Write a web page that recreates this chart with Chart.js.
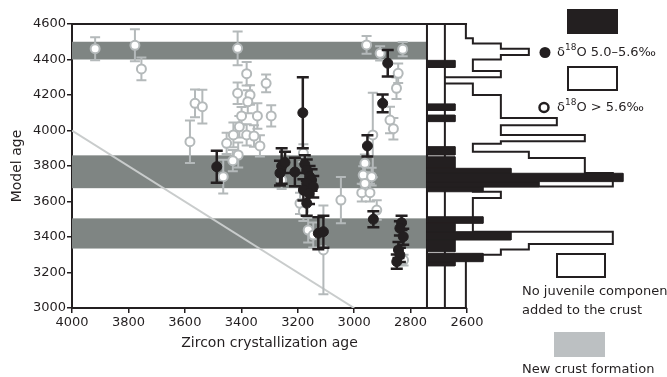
<!DOCTYPE html>
<html>
<head>
<meta charset="utf-8">
<script src="https://cdn.jsdelivr.net/npm/chart.js@4"></script>
<style>
  html, body { margin: 0; padding: 0; background: #fff; }
</style>
</head>
<body>
<canvas id="zircon" width="667" height="377"></canvas>
<script>
// open circles: d18O > 5.6 permil (crystallization age, model age, 2 sigma)
const openX = [3918, 3777, 3754, 3564, 3538, 3582, 3413, 3381, 3312, 3413, 3369, 3377,
  3343, 3294, 3399, 3407, 3428, 3381, 3355, 3452, 3334, 3411, 3464, 3430,
  3257, 3180, 3192, 3180, 3163, 3145, 3109, 3047, 2956, 2908, 2828, 2844,
  2850, 2873, 2861, 2934, 2962, 2968, 2938, 2962, 2973, 2944, 2920, 2825];
const openY = [4461, 4480, 4347, 4153, 4134, 3937, 4463, 4320, 4266, 4210, 4200, 4162,
  4082, 4082, 4082, 4021, 3975, 3975, 3969, 3928, 3913, 3862, 3740, 3830,
  3721, 3873, 3590, 3545, 3439, 3411, 3327, 3608, 4482, 4435, 4458, 4322,
  4238, 4059, 4010, 3975, 3815, 3749, 3740, 3702, 3650, 3650, 3552, 3270];
const openErr = [65, 90, 64, 78, 95, 120, 95, 66, 50, 60, 55, 65,
  72, 60, 50, 60, 70, 60, 60, 60, 60, 70, 95, 60,
  50, 50, 60, 55, 70, 70, 250, 130, 50, 40, 40, 55,
  60, 75, 60, 238, 50, 50, 50, 50, 50, 50, 55, 30];

// filled circles: d18O 5.0-5.6 permil
const fillX = [3487, 3182, 2881, 2899, 2953, 2932, 2832, 2838, 2826, 2843, 2838, 2849,
  3257, 3263, 3210, 3245, 3175, 3168, 3158, 3151, 3168, 3145, 3180, 3160, 3168, 3127, 3109];
const fillY = [3796, 4100, 4379, 4153, 3913, 3500, 3480, 3449, 3402, 3327, 3299, 3261,
  3800, 3760, 3766, 3820, 3810, 3777, 3740, 3721, 3702, 3683, 3665, 3646, 3590, 3421, 3430];
const fillErr = [90, 200, 75, 50, 60, 45, 40, 40, 45, 45, 40, 40,
  100, 70, 80, 60, 50, 60, 60, 60, 60, 60, 60, 60, 70, 90, 90];

const xTicks = [4000, 3800, 3600, 3400, 3200, 3000, 2800, 2600];

// new crust formation bands (model age)
const bandLo = [4400, 3675, 3335];
const bandHi = [4500, 3860, 3505];

// model age histogram, all zircons (outline)
const outlineEdges = [4600, 4520, 4490, 4460, 4425, 4400, 4335, 4300, 4265, 4200, 4070, 4030,
  3975, 3940, 3925, 3880, 3845, 3760, 3685, 3655, 3620, 3430, 3360, 3330, 3300, 3270, 3000];
const outlineCounts = [0.75, 1, 2, 3, 2, 1, 2, 0, 1, 2, 4, 2,
  5, 2, 1, 3, 5, 6, 1, 2, 1, 6, 3, 2, 1, 0.75];

// model age histogram, mantle-like zircons (black)
const blackHi = [4395, 4150, 4087, 3909, 3852, 3787, 3759, 3712, 3683, 3514, 3477, 3430, 3383, 3308, 3261];
const blackLo = [4355, 4113, 4050, 3862, 3787, 3759, 3712, 3683, 3655, 3477, 3430, 3383, 3317, 3261, 3237];
const blackCounts = [1, 1, 1, 1, 1, 3, 7, 4, 2, 2, 1, 3, 1, 2, 1];

const ink = '#231f20';
const grey = '#b4b9ba';
const bandColor = '#7f8583';
const font = 'DejaVu Sans';

// horizontal layout: age axis runs on past 2600 so the histograms fit to the right
const X_LEFT = 4000, X_RIGHT = 1987;
const HIST_BASE = 2742;      // age where the histogram baseline sits
const MA_PER_COUNT = 99.2;   // width of one count in age units
const OUTLINE_BASE = 0.64;   // outline histogram starts a bit right of the black one

const openPts = openX.map((x, i) => ({x: x, y: openY[i]}));
const fillPts = fillX.map((x, i) => ({x: x, y: fillY[i]}));

let outlinePoly = [{x: OUTLINE_BASE, y: outlineEdges[0]}];
for (let i = 0; i < outlineCounts.length; i++) {
  outlinePoly.push({x: OUTLINE_BASE + outlineCounts[i], y: outlineEdges[i]});
  outlinePoly.push({x: OUTLINE_BASE + outlineCounts[i], y: outlineEdges[i + 1]});
}
outlinePoly.push({x: OUTLINE_BASE, y: outlineEdges[outlineEdges.length - 1]});
outlinePoly.push({x: OUTLINE_BASE, y: outlineEdges[0]});

let blackPoly = [];
for (let i = 0; i < blackCounts.length; i++) {
  blackPoly.push({x: 0, y: blackHi[i]});
  blackPoly.push({x: blackCounts[i], y: blackHi[i]});
  blackPoly.push({x: blackCounts[i], y: blackLo[i]});
  blackPoly.push({x: 0, y: blackLo[i]});
}

const errorBars = {
  id: 'errorBars',
  beforeDatasetDraw(chart, args) {
    const ds = chart.data.datasets[args.index];
    if (!ds.errs) return;
    const xs = chart.scales[args.meta.xAxisID];
    const ys = chart.scales[args.meta.yAxisID];
    const ctx = chart.ctx;
    ctx.save();
    ctx.strokeStyle = ds.errColor;
    ctx.lineWidth = ds.errWidth;
    ds.data.forEach((d, i) => {
      const px = xs.getPixelForValue(d.x);
      const t = ys.getPixelForValue(d.y + ds.errs[i]);
      const b = ys.getPixelForValue(d.y - ds.errs[i]);
      const c = ds.capHalf;
      ctx.beginPath();
      ctx.moveTo(px, t); ctx.lineTo(px, b);
      ctx.moveTo(px - c, t); ctx.lineTo(px + c, t);
      ctx.moveTo(px - c, b); ctx.lineTo(px + c, b);
      ctx.stroke();
    });
    ctx.restore();
  }
};

const frame = {
  id: 'frame',
  beforeDatasetsDraw(chart) {
    const {ctx, scales} = chart;
    const xs = scales.x, ys = scales.y, hs = scales.x2;
    const left = xs.getPixelForValue(4000);
    const right = xs.getPixelForValue(2600);
    const base = hs.getPixelForValue(0);
    const top = ys.getPixelForValue(4600);
    const bottom = ys.getPixelForValue(3000);
    ctx.save();
    ctx.fillStyle = bandColor;
    for (let i = 0; i < bandLo.length; i++) {
      const y1 = ys.getPixelForValue(bandHi[i]);
      const y2 = ys.getPixelForValue(bandLo[i]);
      ctx.fillRect(left, y1, base - left, y2 - y1);
    }
    ctx.strokeStyle = ink;
    ctx.lineWidth = 2;
    ctx.beginPath();
    ctx.moveTo(left, top); ctx.lineTo(right, top);
    ctx.moveTo(left, bottom); ctx.lineTo(right, bottom);
    ctx.moveTo(base, top); ctx.lineTo(base, bottom);
    ctx.stroke();
    // axis titles
    ctx.fillStyle = ink;
    ctx.font = '14px "' + font + '"';
    ctx.textAlign = 'center';
    ctx.textBaseline = 'middle';
    ctx.fillText('Zircon crystallization age', (left + right) / 2, 343);
    ctx.translate(17, (top + bottom) / 2);
    ctx.rotate(-Math.PI / 2);
    ctx.fillText('Model age', 0, 0);
    ctx.restore();
  }
};

function deltaText(ctx, x, y, rest) {
  ctx.font = '13px "' + font + '"';
  ctx.fillText('δ', x, y);
  let w = ctx.measureText('δ').width;
  ctx.font = '9px "' + font + '"';
  ctx.fillText('18', x + w, y - 5);
  w += ctx.measureText('18').width;
  ctx.font = '13px "' + font + '"';
  ctx.fillText('O ' + rest, x + w, y);
}

const keyBox = {
  id: 'keyBox',
  afterDraw(chart) {
    const ctx = chart.ctx;
    ctx.save();
    ctx.fillStyle = ink;
    ctx.fillRect(567, 9, 51, 25);
    ctx.beginPath();
    ctx.arc(545, 52.5, 5.5, 0, Math.PI * 2);
    ctx.fill();
    ctx.textAlign = 'left';
    ctx.textBaseline = 'middle';
    deltaText(ctx, 557, 53, '5.0–5.6‰');

    ctx.strokeStyle = ink;
    ctx.lineWidth = 2;
    ctx.strokeRect(568, 67, 49, 23);
    ctx.beginPath();
    ctx.arc(544, 107.5, 4.5, 0, Math.PI * 2);
    ctx.lineWidth = 2.5;
    ctx.stroke();
    ctx.fillStyle = ink;
    deltaText(ctx, 557, 108, '> 5.6‰');

    ctx.lineWidth = 2;
    ctx.strokeRect(557, 254, 48, 23);
    ctx.font = '13px "' + font + '"';
    ctx.fillText('No juvenile component', 522, 292);
    ctx.fillText('added to the crust', 522, 311);

    ctx.fillStyle = '#bcc0c2';
    ctx.fillRect(554, 332, 51, 25);
    ctx.fillStyle = ink;
    ctx.fillText('New crust formation', 522, 370);
    ctx.restore();
  }
};

const tickFont = {family: font, size: 13};

new Chart(document.getElementById('zircon').getContext('2d'), {
  type: 'line',
  data: {
    datasets: [
      {
        label: 'δ18O 5.0–5.6‰', data: fillPts, showLine: false,
        pointRadius: 5, pointBackgroundColor: ink, pointBorderColor: ink, pointBorderWidth: 1,
        errs: fillErr, errColor: ink, errWidth: 2.5, capHalf: 6
      },
      {
        label: 'δ18O > 5.6‰', data: openPts, showLine: false,
        pointRadius: 4.5, pointBackgroundColor: '#fff', pointBorderColor: grey, pointBorderWidth: 2,
        errs: openErr, errColor: grey, errWidth: 2, capHalf: 5
      },
      {
        label: '1:1', data: [{x: 4000, y: 4000}, {x: 3000, y: 3000}],
        borderColor: '#c9cccc', borderWidth: 2, pointRadius: 0
      },
      {
        label: 'mantle-like', xAxisID: 'x2', data: blackPoly,
        borderColor: ink, backgroundColor: ink, borderWidth: 1, pointRadius: 0, fill: 'shape'
      },
      {
        label: 'all', xAxisID: 'x2', data: outlinePoly,
        borderColor: ink, backgroundColor: '#fff', borderWidth: 2, pointRadius: 0, fill: 'shape'
      }
    ]
  },
  options: {
    responsive: false,
    animation: false,
    devicePixelRatio: 1,
    layout: {padding: {left: 0, right: 27, top: 24, bottom: 0}},
    plugins: {legend: {display: false}, tooltip: {enabled: false}},
    scales: {
      x: {
        type: 'linear', reverse: true, min: X_RIGHT, max: X_LEFT,
        afterBuildTicks: s => { s.ticks = xTicks.map(v => ({value: v})); },
        afterFit: s => { s.height = 69; },
        border: {display: false},
        grid: {drawOnChartArea: false, tickLength: 5, color: ink, lineWidth: 1.5},
        ticks: {color: ink, font: tickFont, padding: 2, maxRotation: 0, autoSkip: false,
          callback: v => String(v)}
      },
      x2: {
        type: 'linear', display: false,
        min: -(X_LEFT - HIST_BASE) / MA_PER_COUNT,
        max: (HIST_BASE - X_RIGHT) / MA_PER_COUNT
      },
      y: {
        type: 'linear', min: 3000, max: 4600,
        afterFit: s => { s.width = 72; },
        border: {display: true, color: ink, width: 2},
        grid: {drawOnChartArea: false, tickLength: 5, color: ink, lineWidth: 1.5},
        ticks: {stepSize: 200, color: ink, font: tickFont, padding: 1, callback: v => String(v)}
      }
    }
  },
  plugins: [errorBars, frame, keyBox]
});
</script>
</body>
</html>
